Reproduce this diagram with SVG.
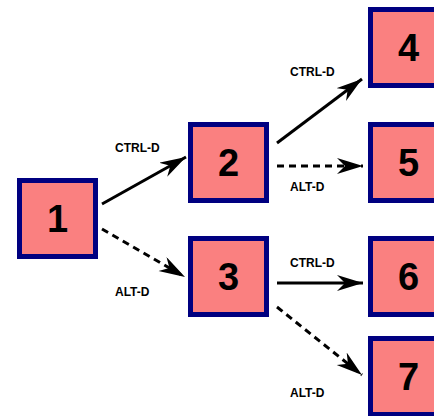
<svg xmlns="http://www.w3.org/2000/svg" width="434" height="416" viewBox="0 0 434 416">
<style>
.box{fill:#FA8080;stroke:#000080;stroke-width:5}
.num{font-family:"Liberation Sans",Arial,sans-serif;font-weight:bold;font-size:38px;fill:#000;text-anchor:middle}
.lbl{font-family:"Liberation Sans",Arial,sans-serif;font-weight:bold;font-size:12px;fill:#000}
.solid{stroke:#000;stroke-width:3;fill:none}
.dash{stroke:#000;stroke-width:3;fill:none;stroke-dasharray:7 5}
</style>
<defs>
<marker id="ah" markerUnits="userSpaceOnUse" markerWidth="28" markerHeight="18" refX="26" refY="8" orient="auto" viewBox="0 0 28 18">
<path d="M26,8 L0,0 L8,8 L0,16 Z" fill="#000"/>
</marker>
</defs>
<rect width="434" height="416" fill="#fff"/>
<g id="connectors">
<line class="solid" x1="102" y1="204" x2="186" y2="157" marker-end="url(#ah)"/>
<line class="dash" x1="102" y1="229" x2="185" y2="277" marker-end="url(#ah)"/>
<line class="solid" x1="277" y1="143" x2="362" y2="79" marker-end="url(#ah)"/>
<line class="dash" x1="277" y1="166" x2="363" y2="166" marker-end="url(#ah)"/>
<line class="solid" x1="277" y1="283" x2="363" y2="283" marker-end="url(#ah)"/>
<line class="dash" x1="277" y1="307" x2="362" y2="375" marker-end="url(#ah)"/>
<text class="lbl" x="115" y="152">CTRL-D</text>
<text class="lbl" x="115" y="296">ALT-D</text>
<text class="lbl" x="290" y="76">CTRL-D</text>
<text class="lbl" x="290" y="191">ALT-D</text>
<text class="lbl" x="290" y="267">CTRL-D</text>
<text class="lbl" x="290" y="397">ALT-D</text>
</g>
<g id="n1"><rect class="box" x="19.5" y="180.5" width="76" height="76"/><text class="num" x="57.5" y="232">1</text></g>
<g id="n2"><rect class="box" x="190.5" y="124.5" width="76" height="76"/><text class="num" x="228.5" y="176">2</text></g>
<g id="n3"><rect class="box" x="190.5" y="238.5" width="76" height="76"/><text class="num" x="228.5" y="290">3</text></g>
<g id="n4"><rect class="box" x="370.5" y="9.5" width="76" height="76"/><text class="num" x="408.5" y="61">4</text></g>
<g id="n5"><rect class="box" x="370.5" y="124.5" width="76" height="76"/><text class="num" x="408.5" y="176">5</text></g>
<g id="n6"><rect class="box" x="370.5" y="238.5" width="76" height="76"/><text class="num" x="408.5" y="290">6</text></g>
<g id="n7"><rect class="box" x="370.5" y="338.5" width="76" height="76"/><text class="num" x="408.5" y="390">7</text></g>
</svg>
